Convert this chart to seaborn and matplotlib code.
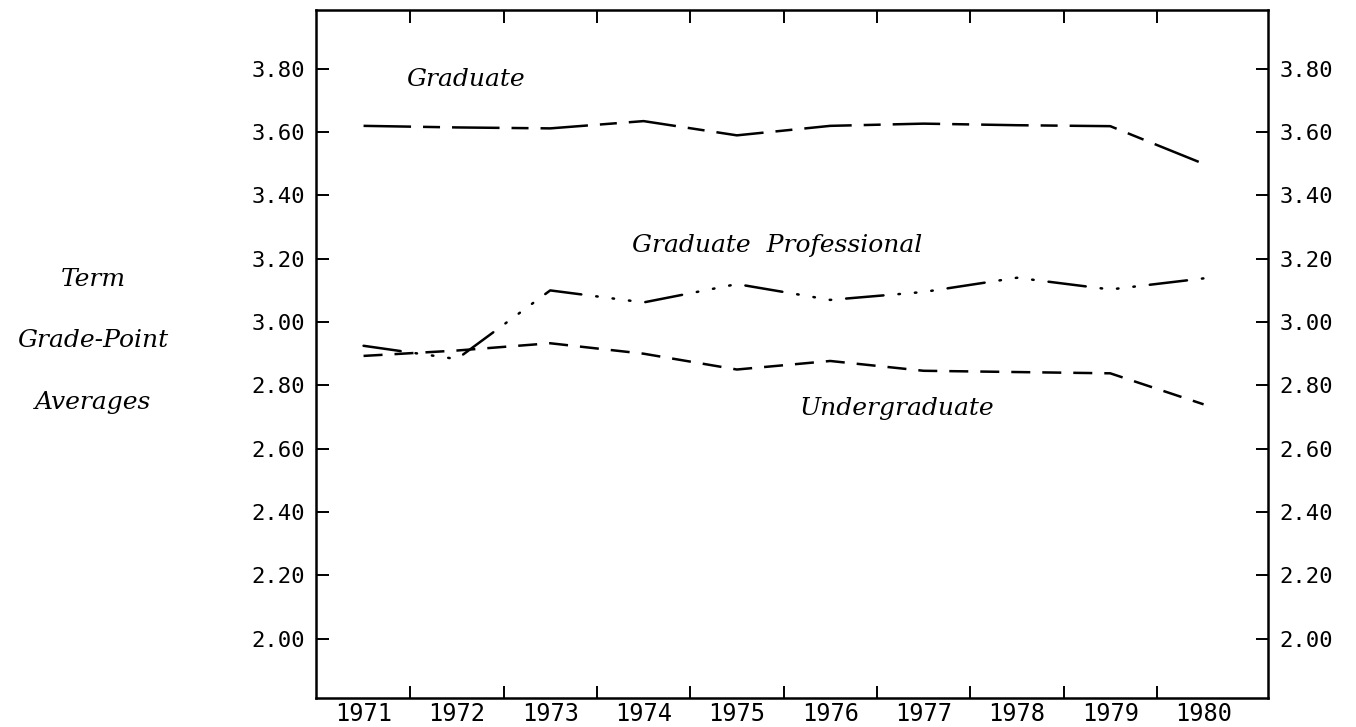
import numpy as np
import pandas as pd
import matplotlib
matplotlib.use("Agg")
import matplotlib.pyplot as plt
from matplotlib.ticker import FixedLocator, FixedFormatter
import seaborn as sns

# datos
years = [1971, 1972, 1973, 1974, 1975, 1976, 1977, 1978, 1979, 1980]
graduate = [3.62, 3.615, 3.612, 3.635, 3.59, 3.62, 3.627, 3.622, 3.619, 3.50]
grad_professional = [2.925, 2.883, 3.10, 3.062, 3.12, 3.07, 3.095, 3.14, 3.103, 3.138]
undergraduate = [2.893, 2.91, 2.933, 2.90, 2.85, 2.877, 2.846, 2.842, 2.838, 2.74]
ytick_values = [2.00, 2.20, 2.40, 2.60, 2.80, 3.00, 3.20, 3.40, 3.60, 3.80]
ytick_labels = ["2.00", "2.20", "2.40", "2.60", "2.80", "3.00", "3.20", "3.40", "3.60", "3.80"]
year_labels = [str(y) for y in years]

sns.set_style("white")
plt.rcParams["font.family"] = ["DejaVu Sans Mono", "DejaVu Sans"]

fig = plt.figure(figsize=(13.56, 7.27), dpi=100)
ax = fig.add_axes([0.2330, 0.0399, 0.7021, 0.9463])

lw = 1.8
sns.lineplot(x=years, y=graduate, ax=ax, color="black", linewidth=lw)
sns.lineplot(x=years, y=grad_professional, ax=ax, color="black", linewidth=lw)
sns.lineplot(x=years, y=undergraduate, ax=ax, color="black", linewidth=lw)

l_grad, l_prof, l_under = ax.lines[-3:]
l_grad.set_dashes((19, 4.8, 6.8, 4.8))
l_prof.set_dashes((15, 6, 0.6, 6, 0.6, 6, 0.6, 6))
l_prof.set_dash_capstyle("round")
l_under.set_dashes((7.6, 4.8))

ax.set_xlim(1970.49, 1980.69)
ax.set_ylim(1.812, 3.986)

# x: etiquetas en los años, marcas entre años
ax.xaxis.set_major_locator(FixedLocator(years))
ax.xaxis.set_major_formatter(FixedFormatter(year_labels))
ax.xaxis.set_minor_locator(FixedLocator([y + 0.5 for y in years[:-1]]))
ax.tick_params(axis="x", which="major", length=0, pad=3, labelsize=17,
               labelcolor="black")
ax.tick_params(axis="x", which="minor", direction="in", length=9, width=1.4,
               top=True, bottom=True, color="black")

ax.yaxis.set_major_locator(FixedLocator(ytick_values))
ax.yaxis.set_major_formatter(FixedFormatter(ytick_labels))
ax.tick_params(axis="y", which="major", direction="in", length=9, width=1.4,
               left=True, right=True, labelleft=True, labelright=True,
               labelsize=16, pad=8, color="black", labelcolor="black")

for side in ["left", "right", "top", "bottom"]:
    ax.spines[side].set_visible(True)
    ax.spines[side].set_color("black")
    ax.spines[side].set_linewidth(1.8)

serif_it = dict(family="DejaVu Serif", style="italic", fontsize=18, color="black")
ax.text(1971.46, 3.765, "Graduate", ha="left", va="center", **serif_it)
ax.text(1973.88, 3.243, "Graduate  Professional", ha="left", va="center", **serif_it)
ax.text(1975.67, 2.728, "Undergraduate", ha="left", va="center", **serif_it)

fig.text(0.0686, 0.6149, "Term", ha="center", va="center", **serif_it)
fig.text(0.0686, 0.5323, "Grade-Point", ha="center", va="center", **serif_it)
fig.text(0.0686, 0.4470, "Averages", ha="center", va="center", **serif_it)

fig.savefig("out.png", dpi=100, facecolor="white")
